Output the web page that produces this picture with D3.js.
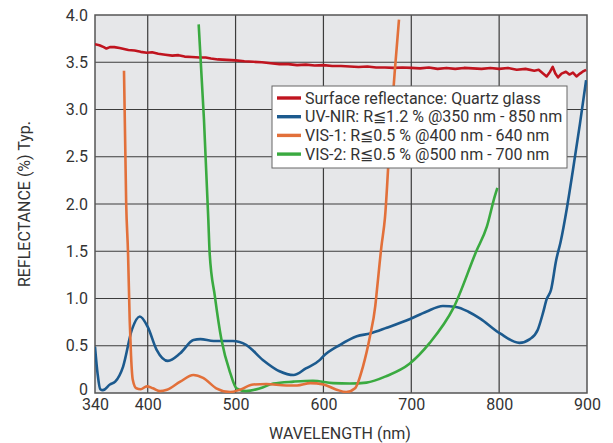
<!DOCTYPE html>
<html>
<head>
<meta charset="utf-8">
<script src="https://cdn.jsdelivr.net/npm/d3@7"></script>
<style>
  body { margin: 0; background: #fff; }
  text { font-family: Roboto, "Liberation Sans", sans-serif; fill: #333; }
</style>
</head>
<body>
<script>
// wavelength (nm) / reflectance (%) pairs
var quartzWl = [340,345,350,353,357,362,368,373,378,385,392,399,405,412,420,428,435,442,450,459,466,472,480,490,500,510,520,530,540,550,560,570,580,590,600,610,620,630,640,650,660,670,680,690,700,710,720,730,740,750,760,770,780,790,800,810,820,830,840,845,850,854,858,861,864,867,871,876,880,884,888,892,895,899];
var quartzR  = [3.69,3.68,3.66,3.645,3.66,3.66,3.65,3.64,3.63,3.625,3.61,3.60,3.605,3.59,3.58,3.57,3.575,3.56,3.555,3.55,3.55,3.54,3.53,3.525,3.52,3.51,3.505,3.50,3.49,3.48,3.48,3.47,3.475,3.465,3.47,3.46,3.46,3.455,3.45,3.455,3.445,3.445,3.44,3.445,3.44,3.435,3.445,3.43,3.44,3.43,3.44,3.435,3.43,3.44,3.43,3.44,3.42,3.43,3.41,3.42,3.38,3.35,3.40,3.45,3.38,3.34,3.38,3.40,3.37,3.39,3.35,3.38,3.40,3.42];

var uvWl = [340,343,346,349,357,363,372,382,391,400,410,423,437,452,460,475,497,512,531,550,566,580,596,600,619,638,653,672,698,717,736,751,765,778,801,823,835,844,850,854,859,865,870,877,884,892,899];
var uvR  = [0.49,0.2,0.04,0.03,0.09,0.12,0.28,0.67,0.81,0.70,0.46,0.34,0.42,0.56,0.57,0.55,0.55,0.51,0.35,0.23,0.19,0.26,0.35,0.39,0.51,0.60,0.63,0.69,0.78,0.86,0.92,0.91,0.86,0.79,0.63,0.53,0.57,0.67,0.85,0.99,1.09,1.41,1.6,1.95,2.36,2.85,3.31];

var vis1Wl = [373,375.5,377.6,379.5,381,383,387,392,399,406,414,422,437,452,463,478,494,505,520,535,558,570,585,600,615,626,636,645,653,659,661,666,670,676,681,686];
var vis1R  = [3.41,2.0,1.48,0.77,0.4,0.14,0.05,0.04,0.07,0.05,0.02,0.035,0.12,0.19,0.16,0.05,0.01,0.035,0.09,0.095,0.08,0.08,0.105,0.09,0.035,0.01,0.05,0.28,0.6,0.92,1.1,1.55,1.85,2.75,3.38,3.95];

var vis2Wl = [458,464,469,470.5,476.5,484,494,501,512,528,543,566,588,611,630,649,672,698,721,748,774,786,795,798];
var vis2R  = [3.90,2.9,1.83,1.48,1.02,0.56,0.21,0.05,0.02,0.05,0.10,0.12,0.13,0.105,0.10,0.11,0.18,0.31,0.53,0.90,1.50,1.76,2.08,2.17];

var xTicks = [340,400,500,600,700,800,900];
var yTicks = [0,0.5,1.0,1.5,2.0,2.5,3.0,3.5,4.0];
var yTickLabels = ["0","0.5","1.0","1.5","2.0","2.5","3.0","3.5","4.0"];

var seriesNames = [
  "Surface reflectance: Quartz glass",
  "UV-NIR: R\u22661.2 % @350 nm - 850 nm",
  "VIS-1: R\u22660.5 % @400 nm - 640 nm",
  "VIS-2: R\u22660.5 % @500 nm - 700 nm"
];
var seriesColors = ["#c0141f", "#1c5a8e", "#e2703a", "#3aaa40"];

var width = 613, height = 443;
var margin = { left: 95, right: 26, top: 15, bottom: 50 };

var svg = d3.select("body").append("svg")
  .attr("width", width)
  .attr("height", height);

var x = d3.scaleLinear().domain([340, 900]).range([margin.left, width - margin.right]);
var y = d3.scaleLinear().domain([0, 4]).range([height - margin.bottom, margin.top]);

// plot background
svg.append("rect")
  .attr("x", x(340)).attr("y", y(4))
  .attr("width", x(900) - x(340)).attr("height", y(0) - y(4))
  .attr("fill", "#e6e7e9");

// grid
var grid = svg.append("g");
grid.selectAll(".vg").data(xTicks.slice(1, -1)).enter().append("line")
  .attr("x1", d => x(d)).attr("x2", d => x(d))
  .attr("y1", y(0)).attr("y2", y(4))
  .attr("stroke", "#3c3c3c").attr("stroke-width", 1.2);
grid.selectAll(".hg").data(yTicks.slice(1, -1)).enter().append("line")
  .attr("x1", x(340)).attr("x2", x(900))
  .attr("y1", d => y(d)).attr("y2", d => y(d))
  .attr("stroke", "#3c3c3c").attr("stroke-width", 1.2);

// frame
svg.append("rect")
  .attr("x", x(340)).attr("y", y(4))
  .attr("width", x(900) - x(340)).attr("height", y(0) - y(4))
  .attr("fill", "none").attr("stroke", "#555").attr("stroke-width", 1.5);

// axes (labels only)
var xAxis = svg.append("g")
  .attr("transform", "translate(0," + y(0) + ")")
  .call(d3.axisBottom(x).tickValues(xTicks).tickSize(0).tickPadding(6).tickFormat(d3.format("d")));
var yAxis = svg.append("g")
  .attr("transform", "translate(" + x(340) + ",0)")
  .call(d3.axisLeft(y).tickValues(yTicks).tickSize(0).tickPadding(7)
    .tickFormat((d, i) => yTickLabels[i]));
[xAxis, yAxis].forEach(function(a) {
  a.select(".domain").remove();
  a.selectAll("text").attr("font-size", 16).attr("fill", "#333")
    .style("font-family", "Roboto, sans-serif");
});
// keep the "0" just clear of "340"
yAxis.selectAll(".tick text").filter(d => d === 0).attr("dy", "0.1em");

// clip
svg.append("clipPath").attr("id", "clip").append("rect")
  .attr("x", x(340)).attr("y", y(4))
  .attr("width", x(900) - x(340)).attr("height", y(0) - y(4));

var smooth = d3.line().x(d => x(d[0])).y(d => y(d[1])).curve(d3.curveMonotoneX);
var rough = d3.line().x(d => x(d[0])).y(d => y(d[1]));

var series = [
  { wl: quartzWl, r: quartzR, line: rough },
  { wl: uvWl, r: uvR, line: smooth },
  { wl: vis1Wl, r: vis1R, line: smooth },
  { wl: vis2Wl, r: vis2R, line: smooth }
];

var lines = svg.append("g").attr("clip-path", "url(#clip)");
// draw order: quartz, blue, green, orange
[0, 1, 3, 2].forEach(function(i) {
  var s = series[i];
  lines.append("path")
    .datum(s.wl.map((w, k) => [w, s.r[k]]))
    .attr("fill", "none")
    .attr("stroke", seriesColors[i])
    .attr("stroke-width", 2.6)
    .attr("stroke-linejoin", "round")
    .attr("d", s.line);
});

// legend
var lg = svg.append("g").attr("transform", "translate(272,86)");
lg.append("rect")
  .attr("width", 295).attr("height", 82)
  .attr("fill", "#fff").attr("stroke", "#666").attr("stroke-width", 1);
seriesNames.forEach(function(name, i) {
  var yy = 12 + i * 18.7;
  lg.append("line")
    .attr("x1", 5).attr("x2", 29).attr("y1", yy).attr("y2", yy)
    .attr("stroke", seriesColors[i]).attr("stroke-width", 3.4);
  lg.append("text")
    .attr("x", 33).attr("y", yy + 5.5)
    .attr("font-size", 16)
    .text(name);
});

// axis titles
svg.append("text")
  .attr("x", 340).attr("y", 439)
  .attr("text-anchor", "middle")
  .attr("font-size", 16)
  .text("WAVELENGTH (nm)");
svg.append("text")
  .attr("transform", "translate(30,204) rotate(-90)")
  .attr("text-anchor", "middle")
  .attr("font-size", 16)
  .text("REFLECTANCE (%) Typ.");
</script>
</body>
</html>
